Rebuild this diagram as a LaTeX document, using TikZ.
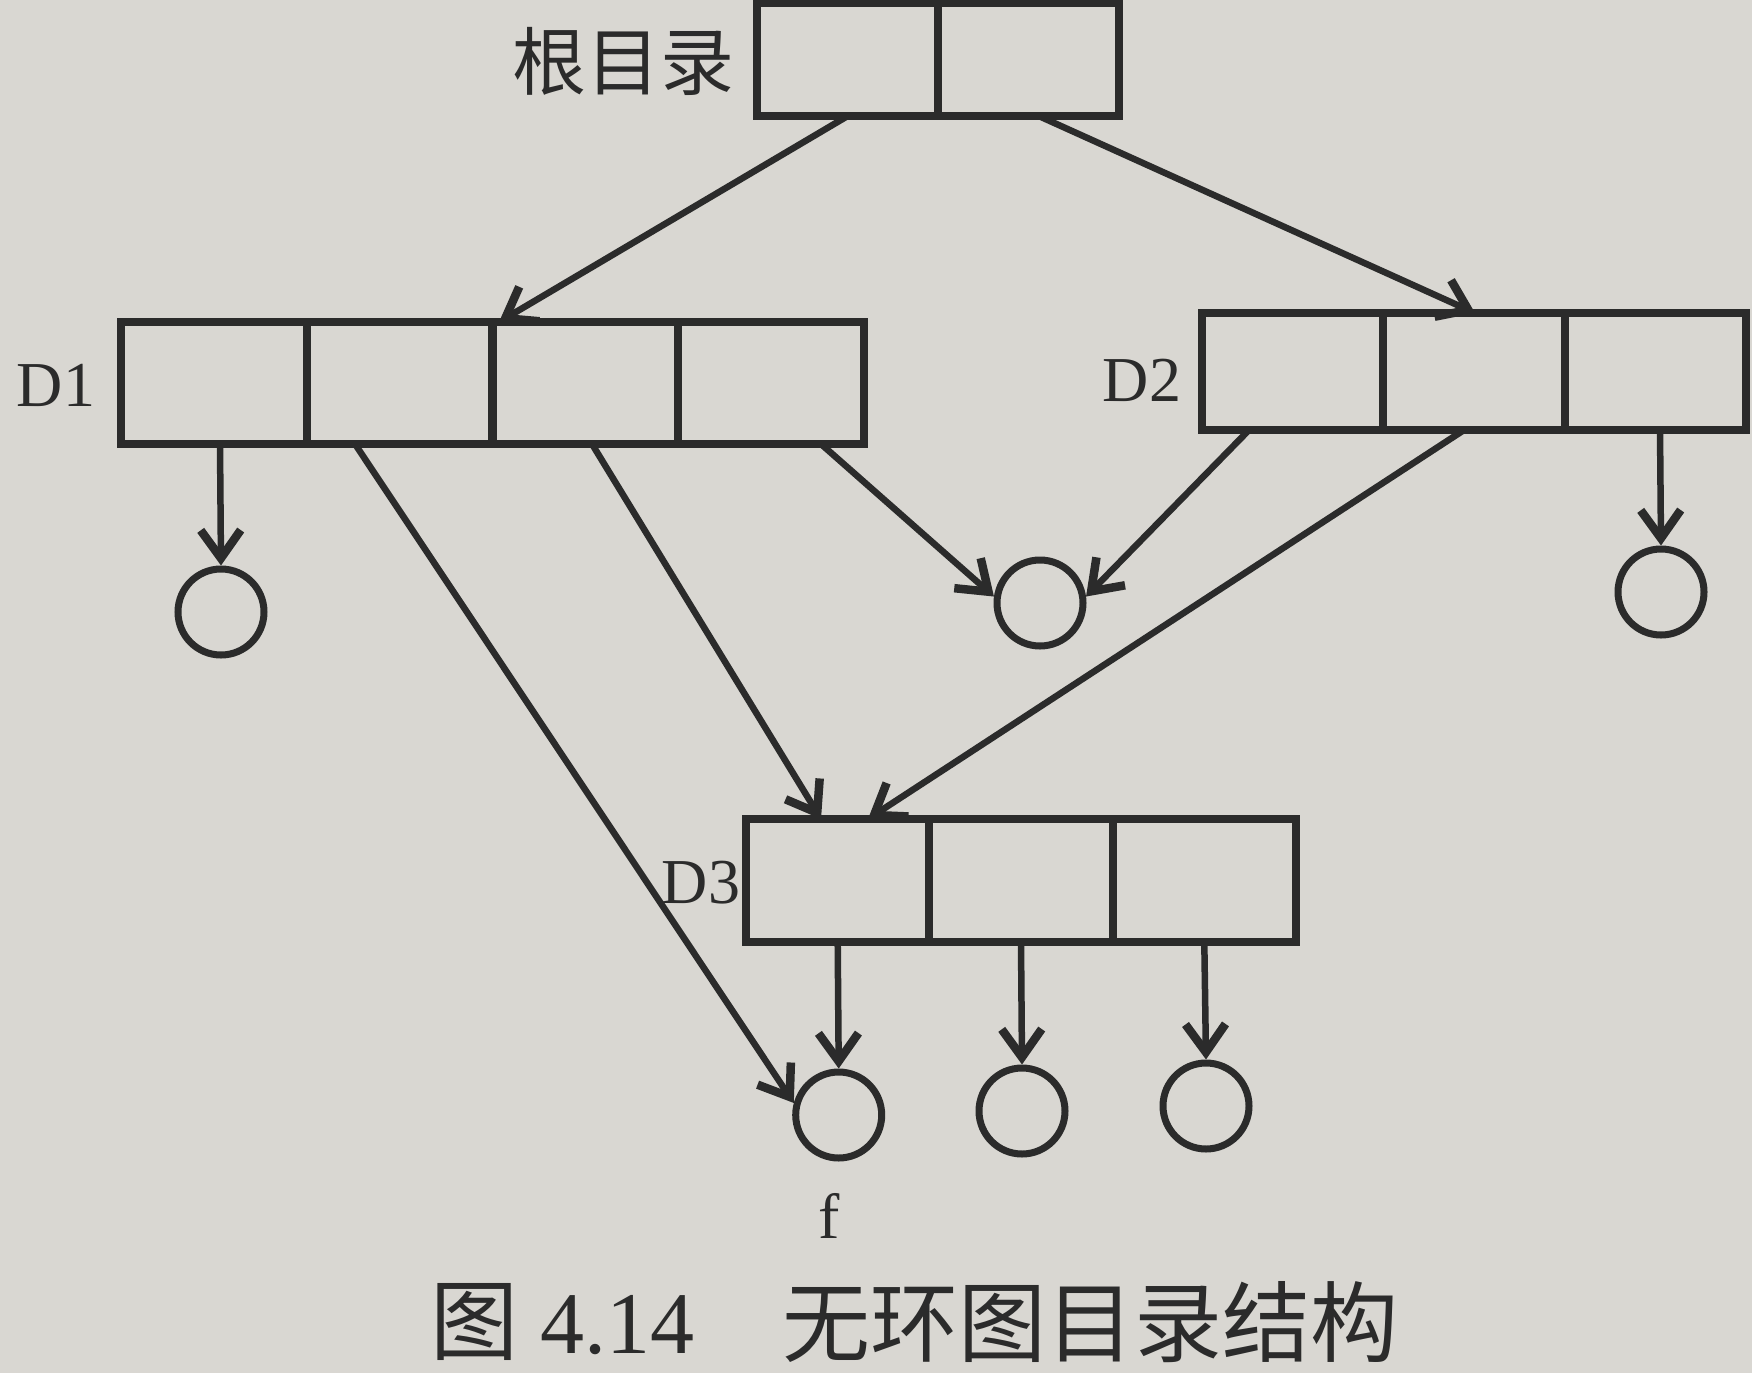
\documentclass[tikz,border=0pt]{standalone}
\usepackage{fontspec}
\setmainfont{Liberation Serif}
\newfontfamily\cjk{Noto Sans CJK SC}
\usetikzlibrary{arrows.meta,calc}
\definecolor{paper}{HTML}{D9D7D2}
\definecolor{ink}{HTML}{2B2B2B}
\tikzset{
  cell/.style={draw=ink, line width=8pt, rectangle, inner sep=0pt, outer sep=0pt},
  leaf/.style={draw=ink, line width=7pt, circle, minimum size=86pt, inner sep=0pt, outer sep=3.5pt},
  conn/.style={draw=ink, line width=6.5pt, -{Straight Barb[length=28pt,width=40pt,line width=8.5pt]}},
  lbl/.style={text=ink, inner sep=0pt, font=\fontsize{64}{64}\selectfont},
  cjklbl/.style={text=ink, inner sep=0pt, font=\cjk\fontsize{74}{74}\selectfont},
  captext/.style={text=ink, inner sep=0pt, font=\fontsize{88}{88}\selectfont}
}
\begin{document}
\begin{tikzpicture}[x=1pt,y=-1pt]
\fill[paper] (0,0) rectangle (1752,1373);
\useasboundingbox (0,0) rectangle (1752,1373);
% root
\node[cell, minimum width=181pt, minimum height=113pt] (r1) at (847.5,59.5) {};
\node[cell, minimum width=181pt, minimum height=113pt] (r2) at (1028.5,59.5) {};
\node[cjklbl, anchor=east] (rl) at (735,61) {根目录};
% D1
\node[cell, minimum width=185.75pt, minimum height=122pt] (d1a) at (213.9,383) {};
\node[cell, minimum width=185.75pt, minimum height=122pt] (d1b) at (399.6,383) {};
\node[cell, minimum width=185.75pt, minimum height=122pt] (d1c) at (585.4,383) {};
\node[cell, minimum width=185.75pt, minimum height=122pt] (d1d) at (771.1,383) {};
\node[lbl] (d1l) at (56,385) {D1};
% D2
\node[cell, minimum width=181.33pt, minimum height=117pt] (d2a) at (1292.7,371.5) {};
\node[cell, minimum width=181.33pt, minimum height=117pt] (d2b) at (1474,371.5) {};
\node[cell, minimum width=181.33pt, minimum height=117pt] (d2c) at (1655.3,371.5) {};
\node[lbl] (d2l) at (1142,380) {D2};
% D3
\node[cell, minimum width=183.33pt, minimum height=123pt] (d3a) at (837.7,880.5) {};
\node[cell, minimum width=183.33pt, minimum height=123pt] (d3b) at (1021,880.5) {};
\node[cell, minimum width=183.33pt, minimum height=123pt] (d3c) at (1204.3,880.5) {};
\node[lbl] (d3l) at (701,883) {D3};
% leaves
\node[leaf] (c1) at (221,612) {};
\node[leaf] (c2) at (1040,603) {};
\node[leaf] (c3) at (1661,592) {};
\node[leaf] (f) at (838.7,1115) {};
\node[leaf] (c5) at (1022,1111) {};
\node[leaf] (c6) at (1206,1106) {};
\node[lbl] (fl) at (829,1216) {f};
% connector coordinates
\coordinate (s1) at (846,117);
\coordinate (e1) at (499,322);
\coordinate (s2) at (1041,117);
\coordinate (e2) at (1475,313);
\coordinate (s3) at (220,444);
\coordinate (s4) at (355,444);
\coordinate (s5) at (592,444);
\coordinate (e5) at (821,819);
\coordinate (s6) at (821,444);
\coordinate (s7) at (1249,430);
\coordinate (s8) at (1464,430);
\coordinate (e8) at (868,819);
\coordinate (s9) at (1660,430);
% connectors
\draw[conn] (s1) -- (e1);
\draw[conn] (s2) -- (e2);
\draw[conn] (s3) -- (c1.north);
\draw[conn] (s4) -- (f.165);
\draw[conn] (s5) -- (e5);
\draw[conn] (s6) -- (c2.172);
\draw[conn] (s7) -- (c2.8);
\draw[conn] (s8) -- (e8);
\draw[conn] (s9) -- (c3.north);
\draw[conn] (d3a.south) -- (f.north);
\draw[conn] (d3b.south) -- (c5.north);
\draw[conn] (d3c.south) -- (c6.north);
% caption
\node[captext, anchor=west] (cap1) at (430,1322) {{\cjk 图} 4.14};
\node[captext, anchor=west] (cap2) at (782,1322) {\cjk 无环图目录结构};
\end{tikzpicture}
\end{document}
